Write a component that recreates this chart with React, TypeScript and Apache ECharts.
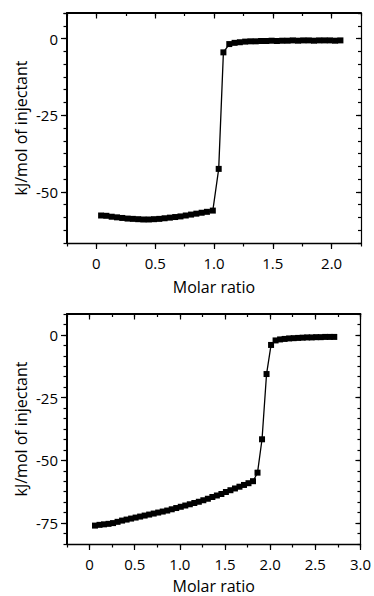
import React, { useEffect, useRef } from "react";
import * as echarts from "echarts";

// ---- data ----
const topX = [0.04, 0.085, 0.13, 0.175, 0.22, 0.265, 0.31, 0.355, 0.4, 0.445, 0.49, 0.535, 0.58, 0.625, 0.67, 0.715, 0.76, 0.805, 0.85, 0.895, 0.94, 0.99, 1.04, 1.08, 1.13, 1.175, 1.22, 1.265, 1.31, 1.355, 1.4, 1.445, 1.49, 1.535, 1.58, 1.625, 1.67, 1.715, 1.76, 1.805, 1.85, 1.895, 1.94, 1.985, 2.03, 2.075];
const topY = [-57.7, -57.8, -58.1, -58.3, -58.5, -58.7, -58.8, -58.9, -59.0, -59.0, -58.9, -58.8, -58.6, -58.4, -58.2, -58.0, -57.7, -57.4, -57.1, -56.8, -56.5, -56.1, -42.5, -4.5, -1.8, -1.4, -1.2, -1.0, -0.9, -0.9, -0.8, -0.8, -0.7, -0.8, -0.7, -0.7, -0.6, -0.7, -0.6, -0.6, -0.7, -0.6, -0.6, -0.6, -0.7, -0.6];

const bottomX = [0.06, 0.11, 0.16, 0.21, 0.26, 0.31, 0.36, 0.41, 0.46, 0.51, 0.56, 0.61, 0.66, 0.71, 0.76, 0.81, 0.86, 0.91, 0.96, 1.01, 1.06, 1.11, 1.16, 1.21, 1.26, 1.31, 1.36, 1.41, 1.46, 1.51, 1.56, 1.61, 1.66, 1.71, 1.76, 1.81, 1.86, 1.91, 1.96, 2.01, 2.06, 2.11, 2.16, 2.21, 2.26, 2.31, 2.36, 2.41, 2.46, 2.51, 2.56, 2.61, 2.66, 2.71];
const bottomY = [-76.0, -75.7, -75.5, -75.3, -75.0, -74.5, -74.0, -73.6, -73.2, -72.8, -72.4, -72.0, -71.6, -71.2, -70.8, -70.4, -70.0, -69.5, -69.0, -68.5, -68.0, -67.5, -67.0, -66.5, -65.9, -65.3, -64.6, -64.0, -63.4, -62.6, -61.9, -61.2, -60.5, -59.8, -59.1, -58.3, -54.9, -41.6, -15.6, -4.0, -2.2, -1.8, -1.6, -1.4, -1.3, -1.2, -1.1, -1.0, -1.0, -0.9, -0.9, -0.8, -0.8, -0.8];

const xTicksTop = [0, 0.5, 1.0, 1.5, 2.0];
const xTicksBottom = [0, 0.5, 1.0, 1.5, 2.0, 2.5, 3.0];
const yTicksTop = [0, -25, -50];
const yTicksBottom = [0, -25, -50, -75];

const X_NAME = "Molar ratio";
const Y_NAME = "kJ/mol of injectant";

const FONT = '"Open Sans", sans-serif';
const BLACK = "#000";

function xAxesFor(g: number, min: number, max: number, majors: number[], nameGap: number) {
  const common = { gridIndex: g, type: "value", min, max, splitLine: { show: false } };
  return [
    {
      ...common,
      position: "bottom",
      interval: 0.25,
      axisLine: { show: true, onZero: false, lineStyle: { color: BLACK, width: 1.3 } },
      axisTick: { show: true, length: 3.5, lineStyle: { color: BLACK, width: 1.2 } },
      axisLabel: { show: false },
      name: X_NAME,
      nameLocation: "middle",
      nameGap,
      nameTextStyle: { color: BLACK, fontSize: 16, lineHeight: 16, fontFamily: FONT },
    },
    {
      ...common,
      position: "bottom",
      axisLine: { show: false, onZero: false },
      axisTick: { show: true, length: 6, customValues: majors, lineStyle: { color: BLACK, width: 1.2 } },
      axisLabel: {
        show: true,
        customValues: majors,
        margin: 12,
        color: BLACK,
        fontSize: 15,
        fontFamily: FONT,
        formatter: (v: number) => (v === 0 ? "0" : v.toFixed(1)),
      },
    },
    {
      ...common,
      position: "top",
      interval: 0.25,
      axisLine: { show: true, onZero: false, lineStyle: { color: BLACK, width: 2 } },
      axisTick: { show: true, inside: true, length: 3, lineStyle: { color: BLACK, width: 1.2 } },
      axisLabel: { show: false },
    },
    {
      ...common,
      position: "top",
      axisLine: { show: false, onZero: false },
      axisTick: { show: true, inside: true, length: 5.5, customValues: majors, lineStyle: { color: BLACK, width: 1.2 } },
      axisLabel: { show: false },
    },
  ];
}

function yAxesFor(g: number, min: number, max: number, majors: number[]) {
  const common = { gridIndex: g, type: "value", min, max, splitLine: { show: false } };
  return [
    {
      ...common,
      position: "left",
      interval: 25 / 6,
      axisLine: { show: true, onZero: false, lineStyle: { color: BLACK, width: 2 } },
      axisTick: { show: true, length: 3.5, lineStyle: { color: BLACK, width: 1.2 } },
      axisLabel: { show: false },
      name: Y_NAME,
      nameLocation: "middle",
      nameGap: 38,
      nameTextStyle: { color: BLACK, fontSize: 16, fontFamily: FONT },
    },
    {
      ...common,
      position: "left",
      axisLine: { show: false, onZero: false },
      axisTick: { show: true, length: 6, customValues: majors, lineStyle: { color: BLACK, width: 1.2 } },
      axisLabel: {
        show: true,
        customValues: majors,
        margin: 9,
        color: BLACK,
        fontSize: 15,
        fontFamily: FONT,
        formatter: (v: number) => String(Math.round(v)),
      },
    },
    {
      ...common,
      position: "right",
      interval: 25 / 6,
      axisLine: { show: true, onZero: false, lineStyle: { color: BLACK, width: 1.2 } },
      axisTick: { show: true, inside: true, length: 3, lineStyle: { color: BLACK, width: 1.2 } },
      axisLabel: { show: false },
    },
    {
      ...common,
      position: "right",
      axisLine: { show: false, onZero: false },
      axisTick: { show: true, inside: true, length: 5, customValues: majors, lineStyle: { color: BLACK, width: 1.2 } },
      axisLabel: { show: false },
    },
  ];
}

export default function App() {
  const ref = useRef<HTMLDivElement>(null);
  useEffect(() => {
    if (!ref.current) return;
    const chart = echarts.init(ref.current, null, { renderer: "svg" });
    const lineSeries = (xs: number[], ys: number[], axisIdx: number) => ({
      type: "line",
      xAxisIndex: axisIdx,
      yAxisIndex: axisIdx,
      data: xs.map((x, i) => [x, ys[i]]),
      symbol: "rect",
      symbolSize: 6,
      showAllSymbol: true,
      itemStyle: { color: BLACK },
      lineStyle: { color: BLACK, width: 1.3 },
      clip: false,
    });
    chart.setOption({
      animation: false,
      backgroundColor: "#fff",
      grid: [
        { left: 67, top: 13, width: 294, height: 230 },
        { left: 67, top: 314, width: 294, height: 230 },
      ],
      xAxis: [...xAxesFor(0, -0.25, 2.25, xTicksTop, 36), ...xAxesFor(1, -0.25, 3.0, xTicksBottom, 34)],
      yAxis: [...yAxesFor(0, -200 / 3, 25 / 3, yTicksTop), ...yAxesFor(1, -250 / 3, 25 / 3, yTicksBottom)],
      series: [lineSeries(topX, topY, 0), lineSeries(bottomX, bottomY, 4)],
    });
    return () => chart.dispose();
  }, []);
  return (
    <div
      ref={ref}
      style={{ position: "fixed", left: 0, top: 0, width: 374, height: 596, background: "#fff" }}
    />
  );
}
